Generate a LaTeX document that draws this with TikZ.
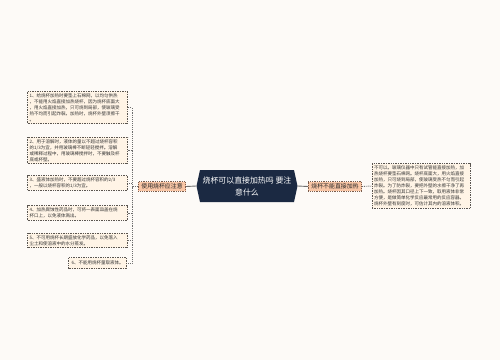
\documentclass[tikz,border=0pt]{standalone}
\usepackage{fontspec}
\setmainfont{Noto Sans CJK SC}
\usetikzlibrary{calc}
\definecolor{bgc}{HTML}{FDFAF7}
\definecolor{leaffill}{HTML}{FFF4E6}
\definecolor{leafline}{HTML}{5A5550}
\definecolor{midfill}{HTML}{F9C6A6}
\definecolor{midline}{HTML}{7A5C4C}
\definecolor{rootfill}{HTML}{1B2942}
\definecolor{linec}{HTML}{6E6E6E}
\tikzset{
  leaf/.style={draw=leafline, densely dotted, line width=0.7pt, fill=leaffill, align=left,
    inner xsep=2pt, inner ysep=2pt, font=\fontsize{4.5}{6.1}\selectfont, text=black!80, anchor=east},
  mid/.style={draw=midline, densely dotted, line width=0.8pt, fill=midfill, inner xsep=3pt, inner ysep=2pt,
    font=\fontsize{5.9}{7}\selectfont, text=black!85},
  conn/.style={draw=linec, line width=0.9pt},
  dconn/.style={draw=linec, line width=0.9pt, densely dotted},
}
\begin{document}
\begin{tikzpicture}[x=1pt,y=-1pt]
\fill[bgc] (0,0) rectangle (500,360);
\useasboundingbox (0,0) rectangle (500,360);
% root shape first, then its text node on top
\fill[rootfill] (200,170) -- (196.5,186) -- (200,202) -- (294,202) -- (297.5,186) -- (294,170) -- cycle;
\node[text=white, align=center, minimum width=101pt, minimum height=32pt, inner sep=0pt,
  font=\fontsize{7.9}{12}\selectfont] (root) at (247,186) {烧杯可以直接加热吗 要注\\意什么};
% mid nodes
\node[mid] (L) at (162,186.5) {使用烧杯应注意};
\node[mid] (R) at (335,186.5) {烧杯不能直接加热};
% leaves left
\node[leaf, text width=96pt] (b1) at (128,107.5) {1、给烧杯加热时要垫上石棉网，以均匀供热\\，不能用火焰直接加热烧杯，因为烧杯底面大\\，用火焰直接加热，只可烧到局部，使玻璃受\\热不均而引起炸裂。加热时，烧杯外壁须擦干\\。};
\node[leaf, text width=96pt] (b2) at (128,150.5) {2、用于溶解时，液体的量以不超过烧杯容积\\的1/3为宜，并用玻璃棒不断轻轻搅拌。溶解\\或稀释过程中，用玻璃棒搅拌时，不要触及杯\\底或杯壁。};
\node[leaf, text width=96pt] (b3) at (128,183) {3、盛液体加热时，不要超过烧杯容积的2/3\\，一般以烧杯容积的1/3为宜。};
\node[leaf, text width=96pt] (b4) at (128,213) {4、加热腐蚀性药品时，可将一表面皿盖在烧\\杯口上，以免液体溅出。};
\node[leaf, text width=96pt] (b5) at (128,240.5) {5、不可用烧杯长期盛放化学药品，以免落入\\尘土和使溶液中的水分蒸发。};
\node[leaf, minimum width=58pt, minimum height=11pt] (b6) at (127,263) {6、不能用烧杯量取液体。};
% right leaf
\node[leaf, anchor=center, text width=94pt] (r1) at (421,186) {不可以。玻璃仪器中只有试管能直接加热，加\\热烧杯要垫石棉网。烧杯底面大，用火焰直接\\加热，只可烧到局部，使玻璃受热不匀而引起\\炸裂。为了防炸裂，要把外壁的水擦干净了再\\加热。烧杯因其口径上下一致，取用液体非常\\方便，是做简单化学反应最常用的反应容器。\\烧杯外壁有刻度时，可估计其内的溶液体积。};
% connectors
\draw[conn] (L.east) -- (root.west);
\draw[conn] (root.east) -- (R.west);
\draw[dconn] (R.east) -- (r1.west);
\coordinate (sp) at (132,186.5);
\draw[dconn] (L.west) -- (sp);
\foreach \b in {b1,b2,b3,b4,b5,b6} { \draw[dconn] (sp) |- (\b.east); }
\end{tikzpicture}
\end{document}
